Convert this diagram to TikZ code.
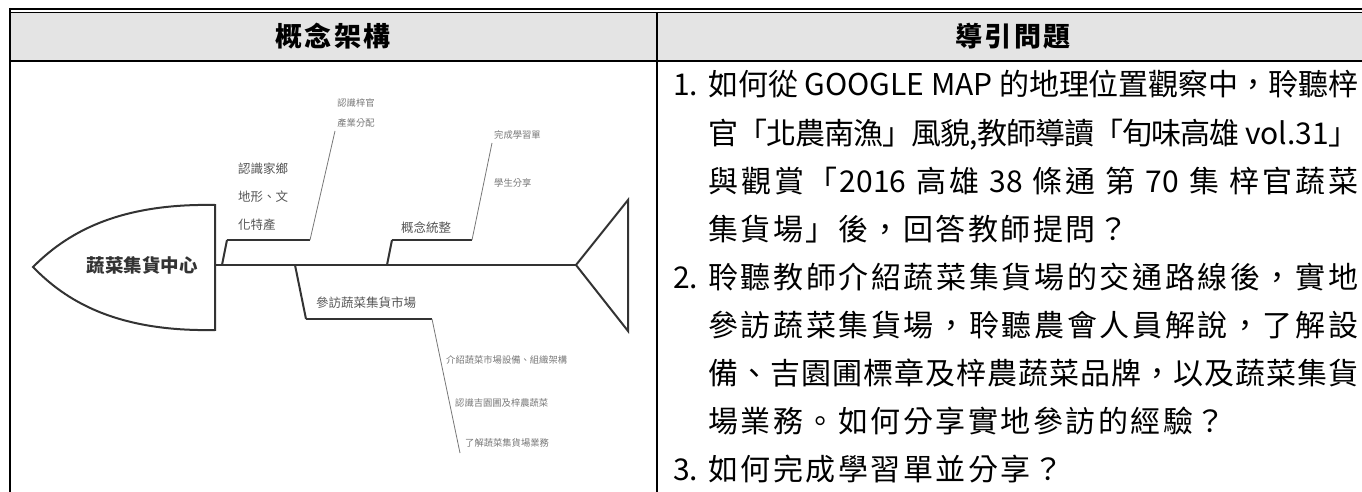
\documentclass[tikz,border=0pt]{standalone}
\usepackage{fontspec}
\setmainfont{Noto Sans CJK TC}
\definecolor{headgray}{HTML}{E4E4E4}
\definecolor{bone}{HTML}{333333}
\definecolor{twig}{HTML}{555555}
\definecolor{leaf}{HTML}{777777}
% all ideographs and the punctuation used get one char class
\newcount\cjkcode
\cjkcode="4E00
\loop \XeTeXcharclass\cjkcode=1 \advance\cjkcode by 1 \ifnum\cjkcode<"A000 \repeat
\XeTeXcharclass"3001=1 \XeTeXcharclass"3002=1 \XeTeXcharclass"300C=1
\XeTeXcharclass"300D=1 \XeTeXcharclass"FF0C=1 \XeTeXcharclass"FF1F=1
\newcommand{\cjkgap}{\hskip 2.5pt}
\XeTeXinterchartoks 0 1 = {\cjkgap}
\XeTeXinterchartoks 1 0 = {\cjkgap}
\XeTeXinterchartoks 1 1 = {\cjkgap}
\newcommand{\fullline}[1]{{\XeTeXinterchartokenstate=1
  \renewcommand{\cjkgap}{\hskip 0pt plus 3pt minus 1.5pt}\makebox[650pt][s]{#1}}}
\newcommand{\looseline}[1]{{\XeTeXinterchartokenstate=1 #1}}
\tikzset{
  bonetext/.style={inner sep=0pt, text=twig, align=left, font=\fontsize{12.5}{28}\selectfont},
  leaftext/.style={inner sep=0pt, text=leaf, align=left, font=\fontsize{9.3}{20}\selectfont},
  qline/.style={inner sep=0pt, anchor=base west, font=\fontsize{30}{36}\selectfont},
  headtext/.style={inner sep=0pt, font=\fontsize{27}{32}\selectfont\bfseries},
  spine/.style={bone, line width=2.5pt},
  twigline/.style={bone, line width=2pt},
  leafline/.style={leaf, line width=0.8pt},
}

\begin{document}
\begin{tikzpicture}[x=1pt, y=-1pt]
    \useasboundingbox (0,0) rectangle (1362,492);

    \fill[headgray] (10,12) rectangle (1362,60);
    \draw[line width=2.2pt] (9,9) -- (1362,9);
    \draw[line width=0.9pt] (9,12) -- (1362,12);
    \draw[line width=2.2pt] (10,61) -- (1362,61);
    \draw[line width=2.5pt] (10,8) -- (10,492);
    \draw[line width=2pt] (657,12) -- (657,492);

    \node[headtext] (hconcept) at (333,36) {\looseline{概念架構}};
    \node[headtext] (hquest) at (1013,36) {\looseline{導引問題}};

    \draw[bone, line width=2pt] (215,205) .. controls (115,203) and (65,235) .. (33,267)
        .. controls (65,300) and (115,332) .. (215,330) -- cycle;
    \node[inner sep=0pt, text=bone, font=\fontsize{18.5}{20}\selectfont\bfseries] (hub) at (142,265) {蔬菜集貨中心};

    \coordinate (spinestart) at (215,265);
    \coordinate (tailtip) at (576,265);
    \draw[spine] (spinestart) -- (tailtip);
    \draw[bone, line width=2pt] (tailtip) -- (628,200) -- (628,331) -- cycle;

    \coordinate (homeroot) at (222,265);
    \coordinate (homeknee) at (227,240);
    \coordinate (homebar) at (310,240);
    \coordinate (hometip) at (335,131);
    \draw[twigline] (homeroot) -- (homeknee);
    \draw[spine] (homeknee) -- (homebar);
    \draw[leafline] (homebar) -- (hometip);

    \coordinate (sumroot) at (387,265);
    \coordinate (sumknee) at (392,240);
    \coordinate (sumbar) at (472,240);
    \coordinate (sumtip) at (492,143);
    \draw[twigline] (sumroot) -- (sumknee);
    \draw[spine] (sumknee) -- (sumbar);
    \draw[leafline] (sumbar) -- (sumtip);

    \coordinate (visitroot) at (295,265);
    \coordinate (visitknee) at (306,319);
    \coordinate (visitbar) at (432,319);
    \coordinate (visittip) at (460,453);
    \draw[twigline] (visitroot) -- (visitknee);
    \draw[spine] (visitknee) -- (visitbar);
    \draw[leafline] (visitbar) -- (visittip);

    \node[bonetext] (home) at (263,197) {認識家鄉\\地形、文\\化特產};
    \node[leaftext] (homeleaf) at (356,113) {認識梓官\\產業分配};
    \node[bonetext] (sum) at (426,228) {概念統整};
    \node[leaftext, anchor=west] (sumleafa) at (494,135) {完成學習單};
    \node[leaftext, anchor=west] (sumleafb) at (494,183) {學生分享};
    \node[bonetext] (visit) at (366,303) {參訪蔬菜集貨市場};
    \node[leaftext, anchor=west] (visitleafa) at (446,360) {介紹蔬菜市場設備、組織架構};
    \node[leaftext, anchor=west] (visitleafb) at (455,403) {認識吉園圃及梓農蔬菜};
    \node[leaftext, anchor=west] (visitleafc) at (465,443) {了解蔬菜集貨場業務};

    \node[qline] (qa) at (673,96) {1.};
    \node[qline] (qa1) at (708,96) {\fullline{如何從 GOOGLE MAP 的地理位置觀察中，聆聽梓}};
    \node[qline] (qa2) at (708,144) {\fullline{官「北農南漁」風貌,教師導讀「旬味高雄 vol.31」}};
    \node[qline] (qa3) at (708,192) {\fullline{與觀賞「2016 高雄 38 條通 第 70 集 梓官蔬菜}};
    \node[qline] (qa4) at (708,240) {\looseline{集貨場」後，回答教師提問？}};
    \node[qline] (qb) at (673,288) {2.};
    \node[qline] (qb1) at (708,288) {\fullline{聆聽教師介紹蔬菜集貨場的交通路線後，實地}};
    \node[qline] (qb2) at (708,336) {\fullline{參訪蔬菜集貨場，聆聽農會人員解說，了解設}};
    \node[qline] (qb3) at (708,384) {\fullline{備、吉園圃標章及梓農蔬菜品牌，以及蔬菜集貨}};
    \node[qline] (qb4) at (708,432) {\looseline{場業務。如何分享實地參訪的經驗？}};
    \node[qline] (qc) at (673,480) {3.};
    \node[qline] (qc1) at (708,480) {\looseline{如何完成學習單並分享？}};

\end{tikzpicture}
\end{document}
